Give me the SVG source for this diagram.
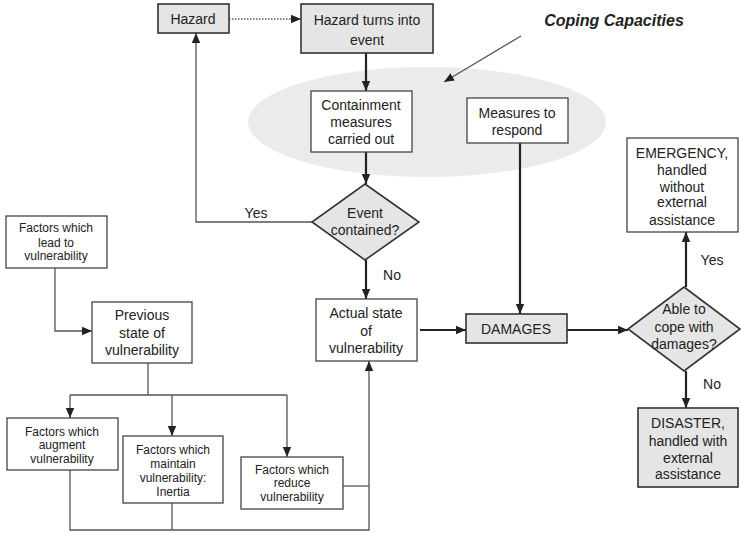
<svg xmlns="http://www.w3.org/2000/svg" width="741" height="533" viewBox="0 0 741 533">
<style>
text{font-family:"Liberation Sans",Arial,sans-serif;fill:#222;text-anchor:middle}
.t14{font-size:14px}
.t12{font-size:12px}
.g{fill:#e5e5e5;stroke:#333;stroke-width:1.6}
.w{fill:#fff;stroke:#444;stroke-width:1.3}
.thin{fill:none;stroke:#555;stroke-width:1.3}
.thick{fill:none;stroke:#222;stroke-width:2.2}
</style>
<defs>
<marker id="ah" markerUnits="userSpaceOnUse" markerWidth="10" markerHeight="10" viewBox="0 0 10 10" refX="10" refY="5" orient="auto">
<path d="M0,0.8 L10,5 L0,9.2 Z" fill="#222"/>
</marker>
</defs>
<rect width="741" height="533" fill="#fff"/>
<ellipse id="coping-area" cx="427" cy="122" rx="179" ry="55" fill="#ebebeb"/>

<g id="connectors">
<path class="thin" d="M229,19 H301" stroke-dasharray="1.5,1.5" marker-end="url(#ah)"/>
<path class="thin" d="M312,222 H196 V33" marker-end="url(#ah)"/>
<path class="thick" d="M366,53 V91" marker-end="url(#ah)"/>
<path class="thick" d="M366,152 V184" marker-end="url(#ah)"/>
<path class="thick" d="M366,260 V299" marker-end="url(#ah)"/>
<path class="thick" d="M420,330 H466" marker-end="url(#ah)"/>
<path class="thick" d="M520,143 V314" marker-end="url(#ah)"/>
<path class="thick" d="M567,330 H628" marker-end="url(#ah)"/>
<path class="thick" d="M686,287 V232" marker-end="url(#ah)"/>
<path class="thick" d="M686,371 V408" marker-end="url(#ah)"/>
<path class="thin" d="M521,36 L444,82" stroke="#333" stroke-width="1" marker-end="url(#ah)"/>
<path class="thin" d="M55,268 V331 H92" marker-end="url(#ah)"/>
<path class="thin" d="M148,363 V395"/>
<path class="thin" d="M70,395 H287"/>
<path class="thin" d="M70,395 V418" marker-end="url(#ah)"/>
<path class="thin" d="M172,395 V436" marker-end="url(#ah)"/>
<path class="thin" d="M287,395 V457" marker-end="url(#ah)"/>
<path class="thin" d="M70,470 V530 H369 V361" marker-end="url(#ah)"/>
<path class="thin" d="M172,503 V530"/>
<path class="thin" d="M343,486 H369"/>
</g>

<text x="614" y="26" style="font-size:16px;font-weight:bold;font-style:italic">Coping Capacities</text>
<text x="256" y="218" class="t14">Yes</text>
<text x="392" y="280" class="t14">No</text>
<text x="712" y="265" class="t14">Yes</text>
<text x="712" y="389" class="t14">No</text>

<g id="hazard">
<rect class="g" x="158" y="4" width="71" height="29"/>
<text x="193" y="24" class="t14">Hazard</text>
</g>
<g id="hazard-event">
<rect class="g" x="301" y="4" width="132" height="49"/>
<text x="367" y="25" class="t14">Hazard turns into</text>
<text x="367" y="45" class="t14">event</text>
</g>
<g id="containment">
<rect class="w" x="311" y="91" width="101" height="61"/>
<text x="361" y="110" class="t14">Containment</text>
<text x="361" y="127" class="t14">measures</text>
<text x="361" y="144" class="t14">carried out</text>
</g>
<g id="measures-respond">
<rect class="w" x="467" y="98" width="101" height="45"/>
<text x="517" y="118" class="t14">Measures to</text>
<text x="517" y="135" class="t14">respond</text>
</g>
<g id="event-contained">
<path class="g" d="M365,184 L419,222 L365,260 L312,222 Z"/>
<text x="365" y="218" class="t14">Event</text>
<text x="365" y="235" class="t14">contained?</text>
</g>
<g id="actual-state">
<rect class="w" x="316" y="299" width="101" height="62"/>
<text x="366" y="318" class="t14">Actual state</text>
<text x="366" y="336" class="t14">of</text>
<text x="366" y="353" class="t14">vulnerability</text>
</g>
<g id="damages">
<rect class="g" x="466" y="314" width="101" height="29"/>
<text x="516" y="334" class="t14">DAMAGES</text>
</g>
<g id="able-to-cope">
<path class="g" d="M684,287 L740,329 L684,371 L628,329 Z"/>
<text x="684" y="314" class="t14">Able to</text>
<text x="684" y="332" class="t14">cope with</text>
<text x="684" y="349" class="t14">damages?</text>
</g>
<g id="emergency">
<rect class="w" x="627" y="138" width="111" height="94"/>
<text x="682" y="158" class="t14">EMERGENCY,</text>
<text x="682" y="175" class="t14">handled</text>
<text x="682" y="192" class="t14">without</text>
<text x="682" y="207" class="t14">external</text>
<text x="682" y="225" class="t14">assistance</text>
</g>
<g id="disaster">
<rect class="g" x="638" y="408" width="100" height="79"/>
<text x="688" y="428" class="t14">DISASTER,</text>
<text x="688" y="446" class="t14">handled with</text>
<text x="688" y="463" class="t14">external</text>
<text x="688" y="479" class="t14">assistance</text>
</g>
<g id="factors-lead">
<rect class="w" x="6" y="216" width="101" height="52"/>
<text x="56" y="232" class="t12">Factors which</text>
<text x="56" y="247" class="t12">lead to</text>
<text x="56" y="260" class="t12">vulnerability</text>
</g>
<g id="previous-state">
<rect class="w" x="92" y="302" width="100" height="61"/>
<text x="142" y="320" class="t14">Previous</text>
<text x="142" y="338" class="t14">state of</text>
<text x="142" y="355" class="t14">vulnerability</text>
</g>
<g id="factors-augment">
<rect class="w" x="7" y="418" width="111" height="52"/>
<text x="62" y="436" class="t12">Factors which</text>
<text x="62" y="449" class="t12">augment</text>
<text x="62" y="463" class="t12">vulnerability</text>
</g>
<g id="factors-maintain">
<rect class="w" x="123" y="436" width="100" height="67"/>
<text x="173" y="454" class="t12">Factors which</text>
<text x="173" y="468" class="t12">maintain</text>
<text x="173" y="482" class="t12">vulnerability:</text>
<text x="173" y="496" class="t12">Inertia</text>
</g>
<g id="factors-reduce">
<rect class="w" x="241" y="457" width="102" height="52"/>
<text x="292" y="474" class="t12">Factors which</text>
<text x="292" y="487" class="t12">reduce</text>
<text x="292" y="501" class="t12">vulnerability</text>
</g>
</svg>
